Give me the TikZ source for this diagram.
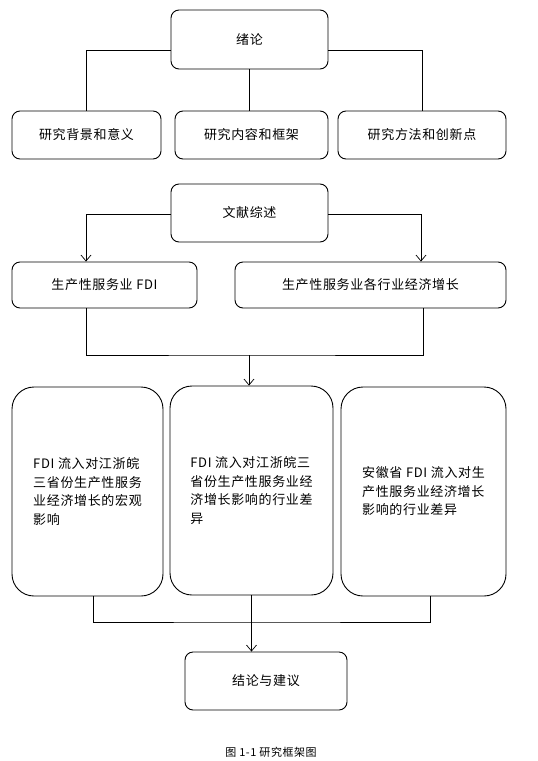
\documentclass[tikz,border=0pt]{standalone}
\usepackage{fontspec}
\newfontfamily\cjk[LetterSpace=5]{Noto Sans CJK SC}
\usepackage{tikz}
\usetikzlibrary{arrows.meta}

\begin{document}
\begin{tikzpicture}[x=1pt,y=-1pt,
  box/.style={draw,line width=0.9pt,rounded corners=8pt,inner sep=0pt,
    font=\cjk\fontsize{13}{18.5}\selectfont},
  tall/.style={box,rounded corners=22pt,align=left,
    minimum height=209pt},
  line/.style={line width=0.7pt},
  arr/.style={line,-{Straight Barb[length=6pt,width=10pt]}}]
\useasboundingbox (0,0) rectangle (538,761);

% part 1
\node[box,minimum width=157pt,minimum height=59pt] (lun) at (249.5,39.5) {绪论};
\node[box,minimum width=149pt,minimum height=48pt] (bg) at (86.5,135) {研究背景和意义};
\node[box,minimum width=153pt,minimum height=48pt] (nr) at (251.5,135) {研究内容和框架};
\node[box,minimum width=168pt,minimum height=48pt] (ff) at (422,135) {研究方法和创新点};

% part 2
\node[box,minimum width=157pt,minimum height=58pt] (ws) at (249.5,213) {文献综述};
\node[box,minimum width=185pt,minimum height=46pt] (fdi) at (104.5,285) {生产性服务业 FDI};
\node[box,minimum width=271pt,minimum height=46pt] (zz) at (370.5,285) {生产性服务业各行业经济增长};

% part 3
\node[tall,minimum width=151pt] (hg) at (87.5,491.5)
  {FDI 流入对江浙皖\\三省份生产性服务\\业经济增长的宏观\\影响};
\node[tall,minimum width=163pt] (hy) at (251.5,490.5)
  {FDI 流入对江浙皖三\\省份生产性服务业经\\济增长影响的行业差\\异};
\node[tall,minimum width=165pt] (ah) at (423.5,491.5)
  {安徽省 FDI 流入对生\\产性服务业经济增长\\影响的行业差异};
\node[box,minimum width=162pt,minimum height=58pt] (jl) at (266,681) {结论与建议};

\node[font=\cjk\fontsize{11}{12}\selectfont] (cap) at (271,752) {图 1-1 研究框架图};

\coordinate (join1) at (249,355);
\coordinate (join2) at (252,622);

\draw[line] ([yshift=-10.5pt]lun.west) -| (bg.north);
\draw[line] (lun.south) -- (lun.south |- nr.north);
\draw[line] ([yshift=-10.5pt]lun.east) -| (ff.north);

\draw[arr] ([yshift=-1pt]ws.west) -| ([xshift=-18.5pt]fdi.north);
\draw[arr] ([yshift=-1pt]ws.east) -| ([xshift=50.5pt]zz.north);
\draw[line] ([xshift=-18.5pt]fdi.south) |- (join1) -| ([xshift=52.5pt]zz.south);
\draw[arr] (join1) -- (join1 |- hy.north);

\draw[line] ([xshift=5.5pt]hg.south) |- (join2) -| ([xshift=6.5pt]ah.south);
\draw[arr] (hy.south) -- (hy.south |- jl.north);
\end{tikzpicture}
\end{document}
